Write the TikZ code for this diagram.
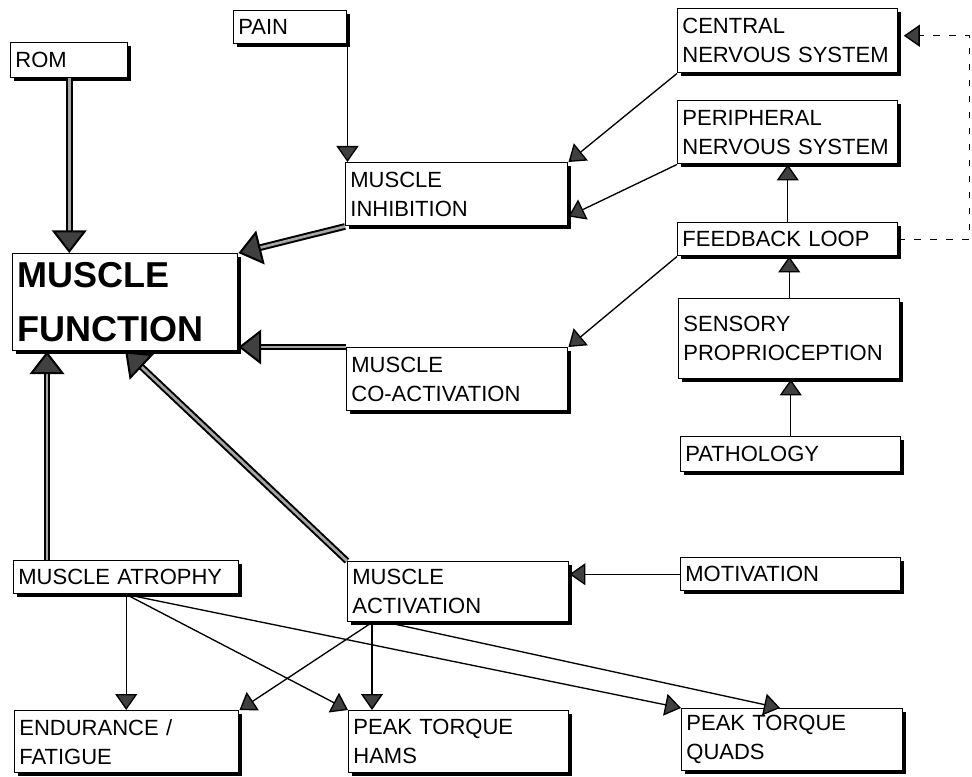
\documentclass[tikz,border=0pt]{standalone}
\usepackage{fontspec}
\setmainfont{Liberation Sans}
\usetikzlibrary{arrows.meta,shadows,calc}
\begin{document}
\begin{tikzpicture}[x=0.75pt,y=-0.75pt,
  box/.style={draw, line width=1.1pt, fill=white, rectangle, anchor=north west, align=left,
    inner xsep=3.5pt, inner ysep=0pt, font=\fontsize{16.5}{21.75}\selectfont,
    drop shadow={shadow xshift=2.4pt, shadow yshift=-2.4pt, opacity=1, fill=black}},
  arr/.style={line width=1pt, -{Triangle[width=16.5pt,length=12pt,fill=black!75]}},
  bigarr/.style={line width=1.5pt, double=black!35, double distance=2pt,
    -{Triangle[width=26pt,length=17pt,fill=black!75]}},
  dsh/.style={line width=1pt, dash pattern=on 5pt off 7pt, shorten >=4pt,
    -{Triangle[width=16.5pt,length=12pt,fill=black!75]}}
]
\useasboundingbox (0,0) rectangle (972,777);

\node[box, text width=80.75pt, minimum height=26.25pt] (rom) at (10,42) {ROM};
\node[box, text width=77.75pt, minimum height=24.75pt] (pain) at (233,10) {PAIN};
\node[box, text width=158pt, minimum height=48pt] (cns) at (677,8) {CENTRAL\\NERVOUS SYSTEM};
\node[box, text width=158pt, minimum height=47.25pt] (pns) at (677,100) {PERIPHERAL\\NERVOUS SYSTEM};
\node[box, text width=158pt, minimum height=24.75pt] (fb) at (677,222) {FEEDBACK LOOP};
\node[box, text width=158.75pt, minimum height=60pt] (sens) at (678,298) {SENSORY\\PROPRIOCEPTION};
\node[box, text width=158pt, minimum height=26.25pt] (patho) at (680,436) {PATHOLOGY};
\node[box, text width=159.5pt, minimum height=47.25pt] (inh) at (345,162) {MUSCLE\\INHIBITION};
\node[box, text width=161.75pt, minimum height=72.75pt, font=\fontsize{27}{40}\selectfont\bfseries] (mf) at (12,253) {MUSCLE\\FUNCTION};
\node[box, text width=158.75pt, minimum height=47.25pt] (coact) at (346,347) {MUSCLE\\CO-ACTIVATION};
\node[box, text width=161.75pt, minimum height=24.75pt] (atr) at (13,560) {MUSCLE ATROPHY};
\node[box, text width=158.75pt, minimum height=45pt] (act) at (347,561) {MUSCLE\\ACTIVATION};
\node[box, text width=158pt, minimum height=24.75pt] (mot) at (680,557) {MOTIVATION};
\node[box, text width=161pt, minimum height=46.5pt] (endu) at (14,710) {ENDURANCE /\\FATIGUE};
\node[box, text width=158pt, minimum height=46.5pt] (hams) at (348,710) {PEAK TORQUE\\HAMS};
\node[box, text width=158.75pt, minimum height=46.5pt] (quads) at (681,708) {PEAK TORQUE\\QUADS};

\coordinate (ab) at ([xshift=18.75pt]act.south west);
\coordinate (ab2) at ([xshift=30pt]act.south west);
\coordinate (at) at ([xshift=25.5pt]atr.north west);

\draw[bigarr] (rom.south) -- (rom.south |- mf.north);
\draw[bigarr] (inh.south west) -- (mf.north east);
\draw[bigarr] (coact.north west) -- (coact.north west -| mf.east);
\draw[bigarr] (at) -- (at |- mf.south);
\draw[bigarr] (act.north west) -- (mf.south);

\draw[arr] (pain.south east) -- (pain.south east |- inh.north);
\draw[arr] (cns.south west) -- (inh.north east);
\draw[arr] (pns.south west) -- ([yshift=7.5pt]inh.south east);
\draw[arr] (fb.south west) -- (coact.north east);
\draw[arr] (fb.north) -- (fb.north |- pns.south);
\draw[arr] (sens.north) -- (sens.north |- fb.south);
\draw[arr] (patho.north) -- (patho.north |- sens.south);
\draw[dsh] (fb.east) -- ++(71,0) |- ([yshift=3.75pt]cns.east);
\draw[arr] (mot.west) -- (mot.west -| act.east);

\draw[arr] (atr.south) -- (atr.south |- endu.north);
\draw[arr] (atr.south) -- (hams.north west);
\draw[arr] (atr.south) -- (quads.north west);
\draw[arr] (ab) -- (endu.north east);
\draw[arr] (ab) -- (ab |- hams.north);
\draw[arr] (ab2) -- ([xshift=74.25pt]quads.north west);
\end{tikzpicture}
\end{document}
